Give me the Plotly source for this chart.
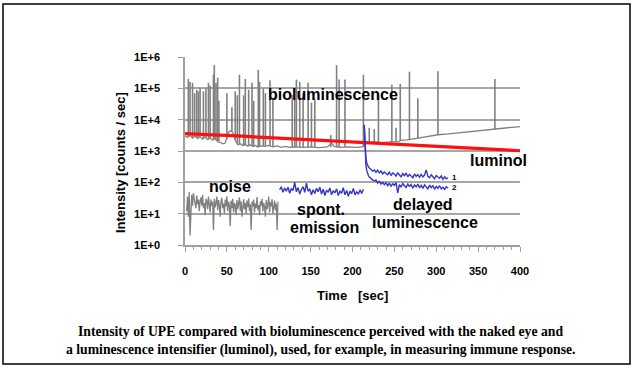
import plotly.graph_objects as go

# ---------------- data ----------------
# bioluminescence baseline (gray)
bio_base_t = [0, 3, 6, 9, 12, 15, 18, 21, 24, 27, 30, 33, 36, 39, 42, 45, 48, 50, 52, 55,
              58, 60, 63, 66, 69, 72, 75, 78, 81, 84, 87, 90, 95, 100, 105, 110, 115, 120, 125, 130,
              140, 150, 160, 170, 175, 178, 185, 195, 205, 212, 216, 225, 235, 245, 255, 258, 265, 275, 285, 295,
              302, 315, 330, 345, 360, 375, 390, 400]
bio_base_v = [3000, 2700, 3200, 2600, 3000, 2500, 2900, 2400, 2800, 2300, 2600, 2200, 2500, 2000, 1900, 1700, 1800, 2500, 4000, 4500,
              3500, 2200, 1600, 1700, 1500, 1600, 1450, 1550, 1400, 1500, 1350, 1450, 1400, 1500, 1350, 1450, 1300, 1400, 1300, 1350,
              1300, 1350, 1280, 1350, 1800, 1400, 1300, 1350, 1300, 1350, 1800, 1900, 1850, 1950, 2000, 2200, 2250, 2500, 2800, 3000,
              3300, 3500, 3900, 4300, 4700, 5200, 5700, 6000]

# bioluminescence flashes (gray spikes): time, foot value, peak value
spike_t = [4, 6, 9, 11.5, 14, 16, 18, 22, 25, 28, 30, 34, 35, 37, 39, 40.5, 50, 56, 60, 62.5,
           65, 70, 72, 76, 80, 82, 87.5, 89, 93.5, 96, 101.5, 105, 128, 131, 133, 137, 141, 147, 151, 155,
           174, 181, 184, 191, 213, 220, 226, 231, 247, 252, 257, 268, 278, 302, 370]
spike_base = [2800, 3000, 2700, 2900, 2600, 2800, 2900, 2500, 2700, 2400, 2500, 2300, 2400, 2300, 2100, 2000, 2400, 4200, 2300, 1800,
              1650, 1550, 1550, 1500, 1500, 1450, 1400, 1400, 1450, 1400, 1450, 1400, 1300, 1320, 1330, 1320, 1310, 1310, 1340, 1350,
              1320, 1300, 1310, 1340, 1350, 1850, 1880, 1900, 1940, 2000, 2150, 2350, 2600, 3250, 4900]
spike_peak = [2.0e5, 1.6e5, 1.5e5, 7e4, 9e4, 8e4, 1.0e5, 8e4, 1.0e5, 1.5e5, 1.2e5, 2.7e5, 5.5e5, 1.5e5, 2.2e5, 4e4, 7e4, 2.5e4, 8e4, 6e4,
              2.7e5, 6e4, 2e5, 9e4, 1.5e5, 4e4, 3.9e5, 1.6e5, 1.0e5, 7e4, 1.8e5, 5e4, 6e4, 5e4, 1.9e5, 1.6e5, 7e4, 1.5e5, 3.5e4, 4.5e4,
              3.2e3, 5.5e5, 1.9e5, 1.9e5, 2.7e5, 5.5e3, 5e3, 6e4, 1.3e5, 5.5e3, 1.4e5, 3.4e5, 4.8e4, 3.5e5, 2e5]

# luminol (red)
lum_t = list(range(0, 401, 10))
lum_v = [3600, 3450, 3420, 3300, 3220, 3150, 3050, 2980, 2820, 2770,
         2620, 2560, 2480, 2400, 2320, 2250, 2160, 2100, 2020, 1960,
         1900, 1850, 1790, 1720, 1660, 1620, 1560, 1530, 1480, 1440,
         1400, 1340, 1300, 1270, 1230, 1180, 1150, 1110, 1080, 1050, 1020]

# detector noise (gray), 1 s steps from t = 2
noise_t = list(range(2, 112))
noise_v = [12, 35, 8, 50, 2, 25, 40, 18, 45, 30,
           22, 15, 38, 20, 28, 12, 25, 33, 18, 40,
           15, 22, 9, 30, 25, 14, 35, 20, 11, 28,
           18, 24, 3, 30, 16, 22, 35, 13, 27, 19,
           8, 25, 32, 15, 21, 10, 28, 17, 36, 12,
           24, 19, 4, 26, 15, 30, 11, 22, 18, 9,
           27, 14, 20, 33, 12, 25, 8, 19, 29, 14,
           22, 10, 26, 16, 31, 12, 20, 3, 24, 17,
           28, 11, 21, 15, 34, 13, 19, 9, 25, 18,
           30, 12, 22, 16, 8, 27, 14, 20, 35, 11,
           23, 17, 29, 10, 18, 26, 13, 21, 3, 24]

# spontaneous emission (blue), 2 s steps from t = 113
spont_t = list(range(113, 214, 2))
spont_v = [58, 72, 48, 66, 52, 70, 45, 64, 55, 100,
           50, 68, 42, 60, 72, 48, 95, 52, 62, 40,
           58, 44, 64, 50, 70, 42, 60, 38, 56, 48,
           66, 40, 54, 46, 62, 38, 52, 45, 68, 40,
           55, 36, 52, 44, 64, 40, 50, 42, 58, 44, 60]

# delayed luminescence curves 1 and 2 (blue)
delayed_t = [214, 215, 216, 217, 218, 219, 220] + list(range(222, 316, 2))
delayed1_v = [6800, 1200, 600, 420, 350, 310, 290,
              265, 230, 250, 210, 245, 200, 230, 185, 215, 195,
              175, 210, 165, 200, 185, 160, 205, 170, 150, 190,
              165, 195, 150, 180, 160, 140, 185, 155, 175, 145,
              180, 150, 170, 250, 155, 140, 175, 150, 130, 165,
              145, 135, 160, 125, 150, 130, 140]
delayed2_v = [6800, 800, 350, 240, 190, 165, 150,
              130, 120, 110, 118, 95, 108, 88, 100, 84, 96,
              78, 95, 75, 90, 80, 98, 46, 85, 70, 92,
              78, 68, 88, 74, 85, 65, 82, 72, 88, 66,
              80, 64, 84, 70, 62, 82, 68, 78, 60, 74,
              64, 78, 62, 70, 60, 72, 66]

x_ticks = [0, 50, 100, 150, 200, 250, 300, 350, 400]
y_ticks = [1, 10, 100, 1000, 10000, 100000, 1000000]
y_ticktext = ["1E+0", "1E+1", "1E+2", "1E+3", "1E+4", "1E+5", "1E+6"]

# ---------------- styling ----------------
GRAY = "#808080"
RED = "#ff1010"
BLUE = "#3535c8"
AXIS = "#a0a0a0"
SANS = "Liberation Sans"
SERIF = "Liberation Serif"

fig = go.Figure()

fig.add_trace(go.Scatter(x=bio_base_t, y=bio_base_v, mode="lines",
                         line=dict(color=GRAY, width=1.3), hoverinfo="skip"))
sx, sy = [], []
for t, b, p in zip(spike_t, spike_base, spike_peak):
    sx += [t, t, None]
    sy += [b, p, None]
fig.add_trace(go.Scatter(x=sx, y=sy, mode="lines",
                         line=dict(color=GRAY, width=1.6), hoverinfo="skip"))
fig.add_trace(go.Scatter(x=lum_t, y=lum_v, mode="lines",
                         line=dict(color=RED, width=3.2), hoverinfo="skip"))
fig.add_trace(go.Scatter(x=noise_t, y=noise_v, mode="lines",
                         line=dict(color=GRAY, width=1.3), hoverinfo="skip"))
fig.add_trace(go.Scatter(x=spont_t, y=spont_v, mode="lines",
                         line=dict(color=BLUE, width=1.4), hoverinfo="skip"))
fig.add_trace(go.Scatter(x=delayed_t, y=delayed1_v, mode="lines",
                         line=dict(color=BLUE, width=1.4), hoverinfo="skip"))
fig.add_trace(go.Scatter(x=delayed_t, y=delayed2_v, mode="lines",
                         line=dict(color=BLUE, width=1.4), hoverinfo="skip"))

def label(text, x, y, size=16, xref="x", yref="y", angle=0, family=SANS):
    fig.add_annotation(text="<b>" + text + "</b>", x=x, y=y, xref=xref, yref=yref,
                       showarrow=False, textangle=angle,
                       font=dict(family=family, size=size, color="black"),
                       xanchor="center", yanchor="middle")

label("bioluminescence", 177, 4.79)
label("luminol", 374, 2.71)
label("noise", 54, 1.88)
label("spont.", 162, 1.12)
label("emission", 167, 0.55)
label("delayed", 284, 1.28)
label("luminescence", 287, 0.73)
label("1", 322, 2.14, size=8)
label("2", 322, 1.85, size=8)

label("Time\u00a0\u00a0\u00a0[sec]", 0.5, -0.271, size=13, xref="paper", yref="paper")
label("Intensity [counts / sec]", -0.194, 0.436, size=13, xref="paper", yref="paper", angle=-90)

label("Intensity of UPE compared with bioluminescence perceived with the naked eye and",
      0.403, -0.462, size=13.7, xref="paper", yref="paper", family=SERIF)
label("a luminescence intensifier (luminol), used, for example, in measuring immune response.",
      0.403, -0.558, size=13.7, xref="paper", yref="paper", family=SERIF)

fig.add_shape(type="rect", xref="paper", yref="paper",
              x0=-0.5433, x1=1.3284, y0=-0.633, y1=1.2819,
              line=dict(color="black", width=1.5), fillcolor="rgba(0,0,0,0)")

fig.update_layout(
    width=634, height=368,
    margin=dict(l=185, r=114, t=57, b=123),
    paper_bgcolor="white", plot_bgcolor="white",
    showlegend=False,
    xaxis=dict(range=[0, 400], tickmode="array", tickvals=x_ticks,
               ticks="outside", ticklen=5, tickcolor=AXIS, tickwidth=1,
               showline=True, linecolor=AXIS, linewidth=1.5,
               showgrid=False, zeroline=False, ticklabelstandoff=10,
               minor=dict(dtick=10, ticks="outside", ticklen=3, tickcolor=AXIS, showgrid=False),
               tickfont=dict(family=SANS, size=11, color="black", weight="bold")),
    yaxis=dict(type="log", range=[0, 6], tickmode="array", tickvals=y_ticks, ticktext=y_ticktext,
               ticks="outside", ticklen=5, tickcolor=AXIS,
               showline=True, linecolor=AXIS, linewidth=1.5,
               showgrid=True, gridcolor="#a6a6a6", gridwidth=1.5, zeroline=False,
               ticklabelstandoff=16,
               tickfont=dict(family=SANS, size=11, color="black", weight="bold")),
)

fig.write_html("out.html", config={"displayModeBar": False},
               post_script="document.body.style.margin='0';document.body.style.overflow='hidden';")
